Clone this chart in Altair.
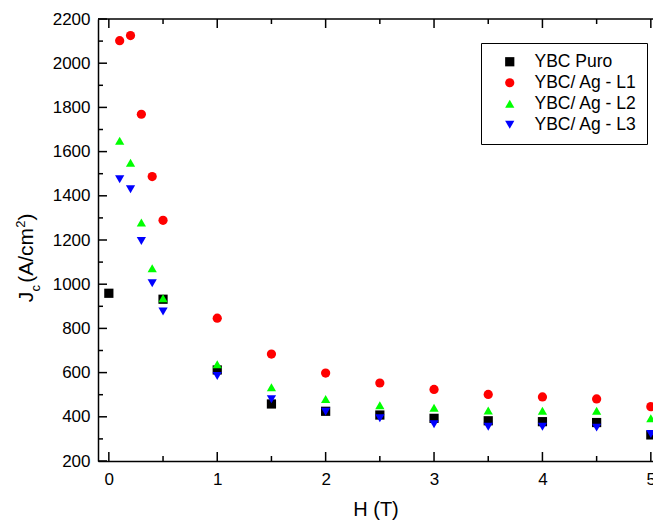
import altair as alt
import pandas as pd

SERIES = ["YBC Puro", "YBC/ Ag - L1", "YBC/ Ag - L2", "YBC/ Ag - L3"]
COLORS = ["#000000", "#ff0000", "#00ff00", "#0000ff"]
SHAPES = ["square", "circle", "triangle-up", "triangle-down"]
SIZES = [85, 85, 125, 125]

H_PURO = [0, 0.5, 1, 1.5, 2, 2.5, 3, 3.5, 4, 4.5, 5]
JC_PURO = [959, 932, 612, 458, 425, 408, 393, 382, 378, 374, 318]
H_AG = [0.1, 0.2, 0.3, 0.4, 0.5, 1, 1.5, 2, 2.5, 3, 3.5, 4, 4.5, 5]
JC_L1 = [2102, 2125, 1769, 1487, 1289, 846, 684, 598, 553, 524, 501, 490, 481, 446]
JC_L2 = [1649, 1550, 1279, 1072, 936, 638, 534, 481, 452, 441, 428, 427, 427, 393]
JC_L3 = [1475, 1430, 1196, 1004, 876, 585, 479, 423, 393, 366, 355, 355, 351, 322]

X_MAJOR = [0, 1, 2, 3, 4, 5]
X_MINOR = [0.5, 1.5, 2.5, 3.5, 4.5]
Y_MAJOR = [200, 400, 600, 800, 1000, 1200, 1400, 1600, 1800, 2000, 2200]
Y_MINOR = [300, 500, 700, 900, 1100, 1300, 1500, 1700, 1900, 2100]

X_TITLE = "H (T)"
# y title pieces: (text, font size, baseline x offset, centre y)
Y_TITLE = [("J", 21, -64.7, 278.0), ("c", 13, -58.0, 269.3), ("(A/cm", 21, -64.7, 236.4),
           ("2", 13, -73.5, 205.2), (")", 21, -64.7, 198.0)]

W, HT = 555, 442
FONT = "Liberation Sans"

rows = []
for h, v in zip(H_PURO, JC_PURO):
    rows.append({"H": h, "Jc": v, "s": SERIES[0]})
for vals, name in [(JC_L1, SERIES[1]), (JC_L2, SERIES[2]), (JC_L3, SERIES[3])]:
    for h, v in zip(H_AG, vals):
        rows.append({"H": h, "Jc": v, "s": name})
df = pd.DataFrame(rows)

xs = alt.Scale(domain=[-0.1, 5.02], nice=False, zero=False)
ys = alt.Scale(domain=[200, 2200], nice=False, zero=False)

AX_X = alt.Axis(values=X_MAJOR, ticks=False, tickSize=0, grid=False, domainColor="black",
                domainWidth=1.5, labelFont=FONT, labelFontSize=17, labelColor="black",
                labelPadding=10, titleFont=FONT, titleFontSize=20, titleFontWeight="normal",
                titleColor="black", titlePadding=12, format="d", title=X_TITLE)
AX_Y = alt.Axis(values=Y_MAJOR, ticks=False, tickSize=0, grid=False, domainColor="black",
                domainWidth=1.5, labelFont=FONT, labelFontSize=17, labelColor="black",
                labelPadding=8, format="d", title="")

points = alt.Chart(df).mark_point(filled=True, opacity=1, clip=True, strokeWidth=0).encode(
    x=alt.X("H:Q", scale=xs, axis=AX_X),
    y=alt.Y("Jc:Q", scale=ys, axis=AX_Y),
    color=alt.Color("s:N", scale=alt.Scale(domain=SERIES, range=COLORS), legend=alt.Legend(title=None)),
    shape=alt.Shape("s:N", scale=alt.Scale(domain=SERIES, range=SHAPES), legend=alt.Legend(title=None)),
    size=alt.Size("s:N", scale=alt.Scale(domain=SERIES, range=SIZES), legend=alt.Legend(title=None)),
)

def tick_layer(vals, field, length, side):
    d = pd.DataFrame({field: vals})
    m = alt.Chart(d).mark_rule(color="black", strokeWidth=1.5)
    if field == "H":
        if side == "bottom":
            return m.encode(x=alt.X("H:Q", scale=xs, axis=AX_X), y=alt.value(HT), y2=alt.value(HT - length))
        return m.encode(x=alt.X("H:Q", scale=xs, axis=AX_X), y=alt.value(0), y2=alt.value(length))
    return m.encode(y=alt.Y("Jc:Q", scale=ys, axis=AX_Y), x=alt.value(0), x2=alt.value(length))

ticks = [
    tick_layer(X_MAJOR, "H", 9, "bottom"), tick_layer(X_MINOR, "H", 5, "bottom"),
    tick_layer(X_MAJOR, "H", 9, "top"), tick_layer(X_MINOR, "H", 5, "top"),
    tick_layer(Y_MAJOR, "Jc", 9, "left"), tick_layer(Y_MINOR, "Jc", 5, "left"),
]

top_line = alt.Chart(pd.DataFrame({"a": [0]})).mark_rule(color="black", strokeWidth=1.5).encode(
    x=alt.value(0), x2=alt.value(W), y=alt.value(0))

title_layers = []
for txt, fs, bx, cy in Y_TITLE:
    title_layers.append(
        alt.Chart(pd.DataFrame({"t": [txt]})).mark_text(
            angle=270, align="center", baseline="alphabetic", font=FONT, fontSize=fs, color="black"
        ).encode(text="t:N", x=alt.value(bx), y=alt.value(cy))
    )

chart = alt.layer(points, *ticks, top_line, *title_layers).properties(
    width=W, height=HT,
    autosize=alt.AutoSizeParams(type="none"),
    padding={"left": 90, "top": 11, "right": 0, "bottom": 60},
).configure_view(stroke=None).configure_legend(
    orient="none", legendX=383, legendY=24, strokeColor="black", fillColor="white",
    padding=10, rowPadding=2, labelFont=FONT, labelFontSize=17.5, labelColor="black",
    labelOffset=16, symbolOffset=10, cornerRadius=0, symbolStrokeWidth=0,
).resolve_scale(x="shared", y="shared")

chart.save("out.html", embed_options={"renderer": "svg", "actions": False})
